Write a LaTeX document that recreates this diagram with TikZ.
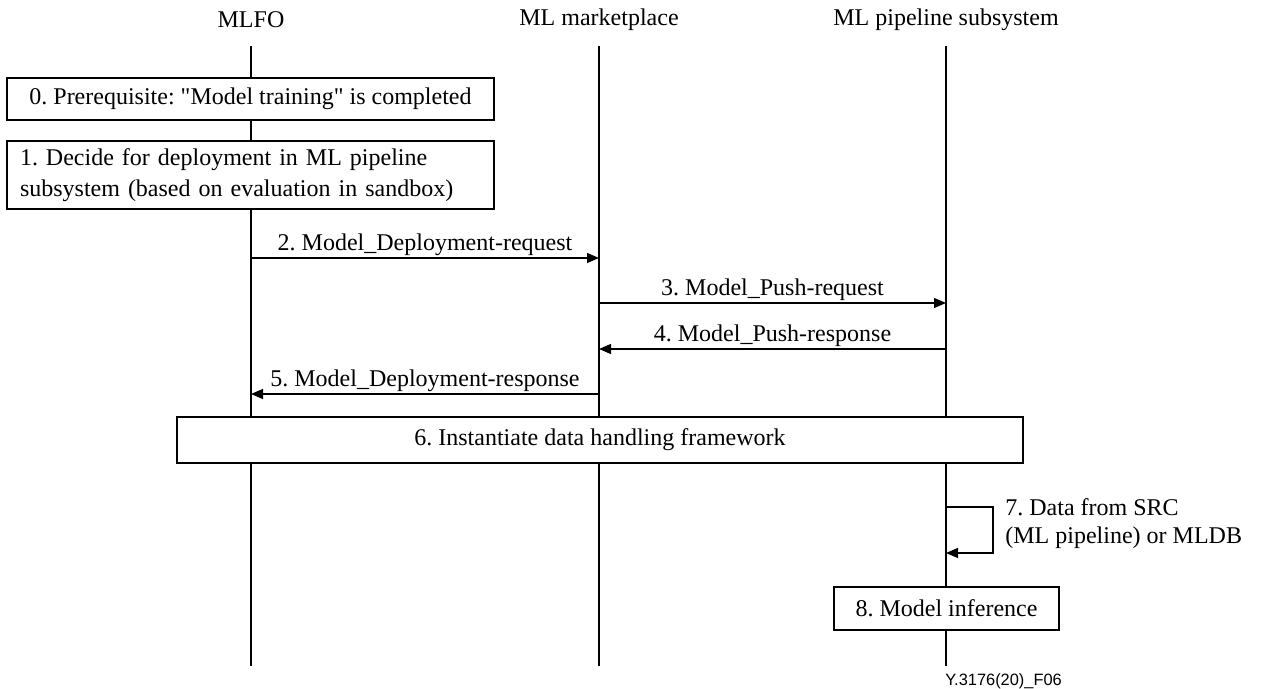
\documentclass[tikz,border=0pt]{standalone}
\usepackage{fontspec}
\setmainfont{Liberation Serif}
\newfontfamily\captfont{Liberation Sans}
\usetikzlibrary{arrows.meta}
\frenchspacing

\tikzset{
  lifeline/.style={line width=0.6pt},
  msg/.style={line width=0.6pt,-{Triangle[length=6pt,width=5pt]}},
  stepbox/.style={draw,fill=white,line width=0.6pt,inner sep=0pt,font=\fontsize{12}{15.5}\selectfont},
  msglabel/.style={above=1pt,inner sep=0pt,font=\fontsize{12}{14}\selectfont},
  head/.style={font=\fontsize{12}{14}\selectfont,inner sep=0pt}
}

\begin{document}
\begin{tikzpicture}[x=0.5pt,y=0.5pt,yscale=-1,xscale=1]
\useasboundingbox (0,0) rectangle (1266,689);

%Lifeline heads
\node[head] (mlfo) at (251,20) {MLFO};
\node[head] (market) at (599,20) {ML marketplace};
\node[head] (pipe) at (946,20) {ML pipeline subsystem};

%Straight Lines (lifelines)
\draw[lifeline] (mlfo |- 0,46) -- (mlfo |- 0,666);
\draw[lifeline] (market |- 0,46) -- (market |- 0,666);
\draw[lifeline] (pipe |- 0,46) -- (pipe |- 0,666);

%Shape: Rectangle
\node[stepbox,minimum width=243.5pt,minimum height=21pt] (prereq) at (250.5,99) {0. Prerequisite: \textquotedbl Model training\textquotedbl{} is completed};
%Shape: Rectangle
\node[stepbox,minimum width=243.5pt,minimum height=34pt,text width=230.5pt,inner xsep=6.5pt,align=left] (decide) at (250.5,175) {1. Decide for deployment in ML pipeline\\subsystem (based on evaluation in sandbox)};

%Messages
\draw[msg] (mlfo |- 0,258) -- node[msglabel] {2. Model\_Deployment-request} (market |- 0,258);
\draw[msg] (market |- 0,303) -- node[msglabel] {3. Model\_Push-request} (pipe |- 0,303);
\draw[msg] (pipe |- 0,349) -- node[msglabel] {4. Model\_Push-response} (market |- 0,349);
\draw[msg] (market |- 0,394) -- node[msglabel] {5. Model\_Deployment-response} (mlfo |- 0,394);

%Shape: Rectangle
\node[stepbox,minimum width=423pt,minimum height=23pt] (frame) at (600,440) {6. Instantiate data handling framework};

%Self message
\coordinate (loopA) at (993,507);
\coordinate (loopB) at (993,553);
\draw[msg] (pipe |- loopA) -- (loopA) -- (loopB) -- (pipe |- loopB);
\node[anchor=west,align=left,inner sep=0pt,font=\fontsize{12}{14}\selectfont] (datasrc) at (1005,524) {7. Data from SRC\\(ML pipeline) or MLDB};

%Shape: Rectangle
\node[stepbox,minimum width=112.5pt,minimum height=21.5pt] (infer) at (946.5,608.5) {8. Model inference};

%Figure tag
\node[anchor=west,inner sep=0pt,font=\captfont\fontsize{8.2}{10}\selectfont] (tag) at (945,681) {Y.3176(20)\_F06};

\end{tikzpicture}
\end{document}
